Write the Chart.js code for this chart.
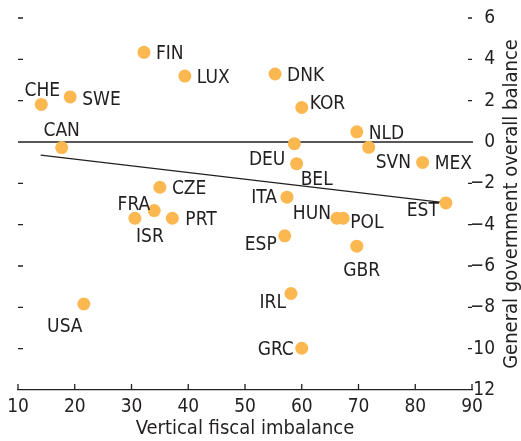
<!DOCTYPE html>
<html>
<head>
<meta charset="utf-8">
<script src="https://cdn.jsdelivr.net/npm/chart.js@4.4.1/dist/chart.umd.min.js"></script>
<style>
  html, body { margin: 0; padding: 0; background: #fff; }
  canvas { display: block; }
</style>
</head>
<body>
<canvas id="chart" width="521" height="441"></canvas>
<script>
// data
const countries = ["FIN", "LUX", "CHE", "SWE", "CAN", "CZE", "FRA", "ISR", "PRT", "USA",
  "DNK", "KOR", "NLD", "DEU", "SVN", "BEL", "MEX", "ITA", "EST", "HUN", "POL", "ESP", "GBR", "IRL", "GRC"];
const imbalance = [32.2, 39.4, 14.1, 19.2, 17.7, 35.0, 34.0, 30.6, 37.2, 21.6,
  55.3, 60.0, 69.7, 58.7, 71.8, 59.1, 81.3, 57.4, 85.4, 66.2, 67.3, 57.0, 69.7, 58.1, 60.0];
const balance = [4.34, 3.19, 1.82, 2.18, -0.27, -2.19, -3.32, -3.69, -3.69, -7.84,
  3.29, 1.67, 0.49, -0.08, -0.26, -1.05, -0.99, -2.67, -2.95, -3.69, -3.69, -4.54, -5.04, -7.33, -9.98];
const trendX = [14.0, 85.4];
const trendY = [-0.64, -2.95];
const xTicks = [10, 20, 30, 40, 50, 60, 70, 80, 90];
const yTicks = [6, 4, 2, 0, -2, -4, -6, -8, -10, -12];

const FONT = "'DejaVu Sans Condensed', 'Liberation Sans Narrow', sans-serif";
const INK = "#231f20";

// where each country name sits next to its dot: [align, dx, dy]
const labelPlace = {
  FIN: ["left", 12, 0], LUX: ["left", 12, 0], CHE: ["center", 1, -15], SWE: ["left", 12, 1],
  CAN: ["center", 0, -19], CZE: ["left", 12, 0], FRA: ["right", -4, -8], ISR: ["center", 15, 17],
  PRT: ["left", 13, 0], USA: ["center", -19, 21], DNK: ["left", 12, 0], KOR: ["left", 8, -5],
  NLD: ["left", 12, 0], DEU: ["right", -9, 14], SVN: ["left", 7, 14], BEL: ["left", 4, 14],
  MEX: ["left", 12, 0], ITA: ["right", -10, -1], EST: ["right", -7, 6], HUN: ["right", -6, -6],
  POL: ["left", 7, 3], ESP: ["right", -8, 7], GBR: ["center", 5, 23], IRL: ["right", -5, 8],
  GRC: ["right", -8, 0]
};

const points = countries.map((c, i) => ({ x: imbalance[i], y: balance[i], name: c }));
const trend = trendX.map((x, i) => ({ x: x, y: trendY[i] }));

const axisMarks = {
  id: "axisMarks",
  beforeDatasetsDraw(chart) {
    const { ctx, chartArea, scales } = chart;
    const xs = scales.x, ys = scales.y;
    ctx.save();
    ctx.strokeStyle = INK;
    ctx.lineWidth = 1.3;
    // zero line
    const y0 = ys.getPixelForValue(0);
    ctx.beginPath();
    ctx.moveTo(chartArea.left, y0);
    ctx.lineTo(chartArea.right + 1, y0);
    ctx.stroke();
    // x ticks pointing up
    xTicks.forEach((v) => {
      const px = xs.getPixelForValue(v);
      ctx.beginPath();
      ctx.moveTo(px, chartArea.bottom);
      ctx.lineTo(px, chartArea.bottom - 6);
      ctx.stroke();
    });
    // short dashes on both sides
    yTicks.forEach((v) => {
      if (v === 0 || v === -12) return;
      const py = ys.getPixelForValue(v);
      ctx.beginPath();
      ctx.moveTo(chartArea.left, py);
      ctx.lineTo(chartArea.left + 5, py);
      ctx.moveTo(chartArea.right - 4, py);
      ctx.lineTo(chartArea.right, py);
      ctx.stroke();
    });
    ctx.restore();
  },
  afterDraw(chart) {
    const { ctx, chartArea } = chart;
    const meta = chart.getDatasetMeta(0);
    ctx.save();
    ctx.fillStyle = INK;
    ctx.font = "19px " + FONT;
    ctx.textBaseline = "alphabetic";
    meta.data.forEach((el, i) => {
      const p = labelPlace[countries[i]];
      ctx.textAlign = p[0];
      ctx.fillText(countries[i], el.x + p[1], el.y + p[2] + 7);
    });
    // right axis title, reading upwards
    ctx.translate(512, (chartArea.top + chartArea.bottom) / 2);
    ctx.rotate(-Math.PI / 2);
    ctx.textAlign = "center";
    ctx.textBaseline = "middle";
    ctx.font = "20px " + FONT;
    ctx.fillText("General government overall balance", 0, 0);
    ctx.restore();
  }
};

new Chart(document.getElementById("chart"), {
  type: "scatter",
  data: {
    datasets: [
      {
        data: points,
        backgroundColor: "#fbb850",
        borderWidth: 0,
        pointRadius: 6.5,
        order: 1
      },
      {
        type: "line",
        data: trend,
        borderColor: INK,
        borderWidth: 1.3,
        pointRadius: 0,
        fill: false,
        order: 2
      }
    ]
  },
  options: {
    responsive: false,
    animation: false,
    events: [],
    layout: { padding: { left: 18, top: 18, right: 26, bottom: 0 } },
    plugins: { legend: { display: false }, tooltip: { enabled: false } },
    scales: {
      x: {
        type: "linear",
        min: 10,
        max: 90,
        afterFit: (s) => { s.height = 51; },
        afterBuildTicks: (s) => { s.ticks = xTicks.map((v) => ({ value: v })); },
        grid: { display: false, drawTicks: false },
        border: { display: true, color: INK, width: 1.3 },
        ticks: { color: INK, font: { family: FONT, size: 19 }, padding: 6, maxRotation: 0 },
        title: { display: true, text: "Vertical fiscal imbalance", color: INK,
          font: { family: FONT, size: 20 }, padding: { top: 0, bottom: 0 } }
      },
      y: {
        type: "linear",
        position: "right",
        min: -12,
        max: 6,
        afterFit: (s) => { s.width = 23; },
        afterBuildTicks: (s) => { s.ticks = yTicks.map((v) => ({ value: v })); },
        grid: { display: false },
        border: { display: false },
        ticks: {
          color: INK,
          font: { family: FONT, size: 19 },
          crossAlign: "far",
          padding: 0,
          callback: (v) => (v < 0 ? "\u2212" + Math.abs(v) : String(v))
        }
      }
    }
  },
  plugins: [axisMarks]
});
</script>
</body>
</html>
